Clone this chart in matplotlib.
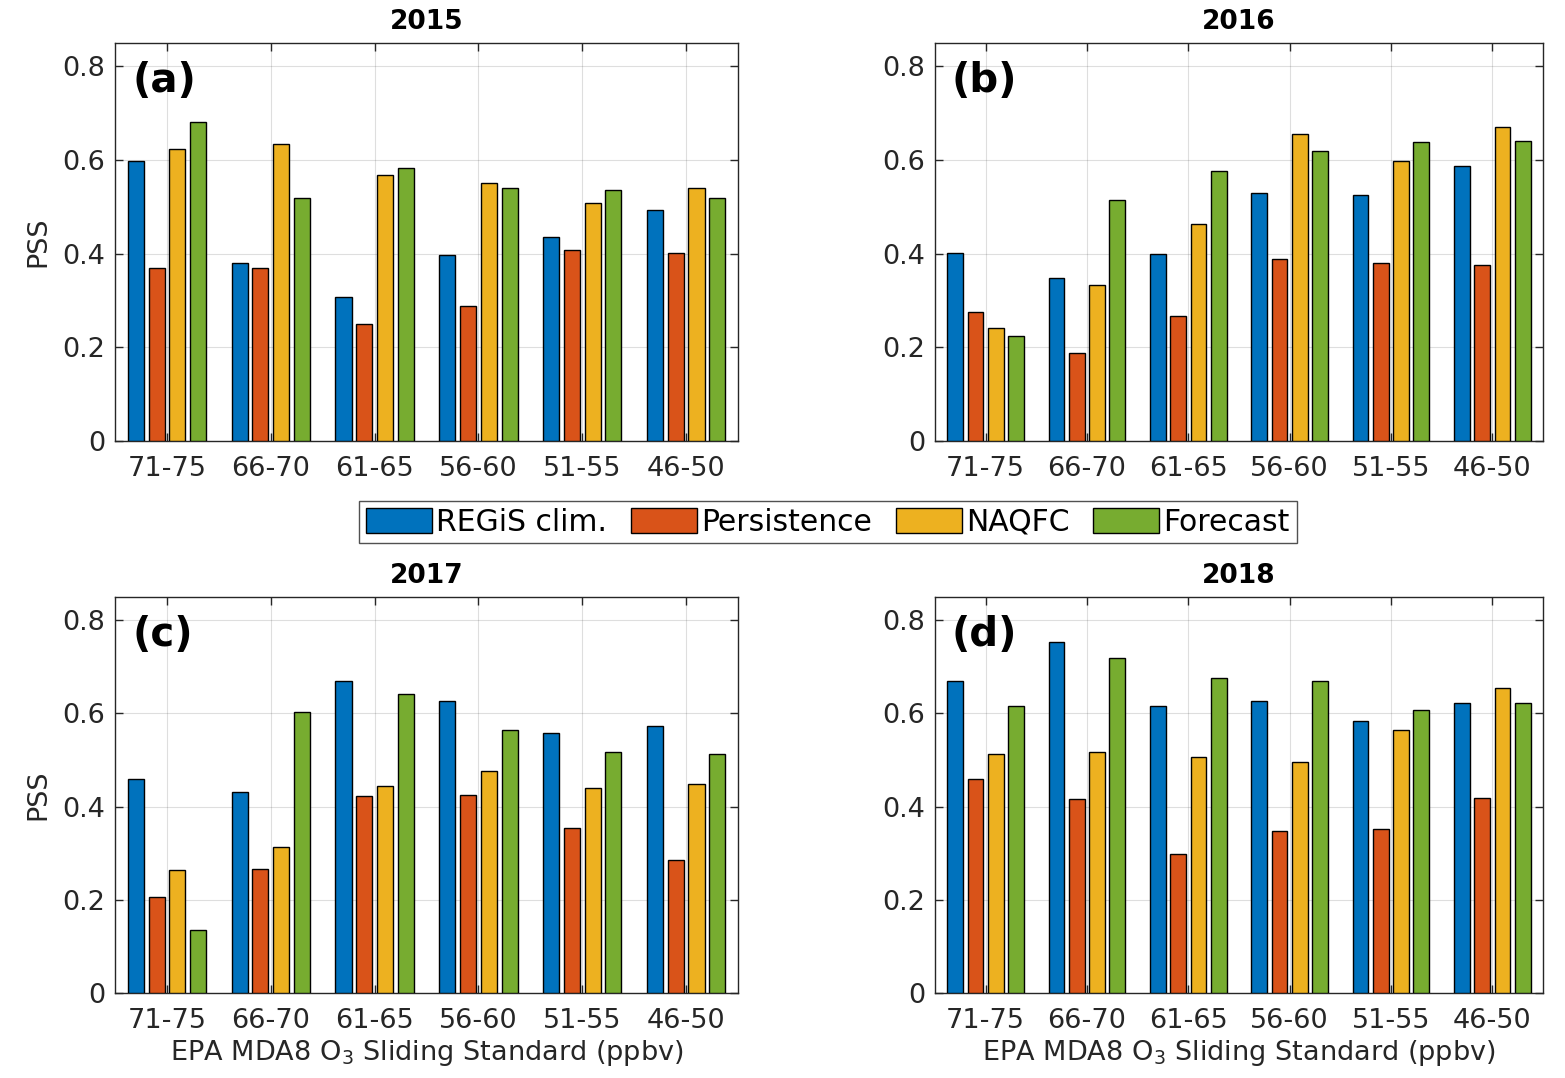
import numpy as np
import matplotlib.pyplot as plt

# PSS scores per ozone threshold bin, one list per year
bins = ['71-75', '66-70', '61-65', '56-60', '51-55', '46-50']
series = ['REGiS clim.', 'Persistence', 'NAQFC', 'Forecast']
colors = ['#0072BD', '#D95319', '#EDB120', '#77AC30']

years = ['2015', '2016', '2017', '2018']
panel_tags = ['(a)', '(b)', '(c)', '(d)']

regis_2015 = [0.597, 0.380, 0.308, 0.398, 0.435, 0.493]
persist_2015 = [0.369, 0.369, 0.249, 0.289, 0.409, 0.402]
naqfc_2015 = [0.624, 0.634, 0.569, 0.551, 0.508, 0.540]
fcst_2015 = [0.681, 0.518, 0.584, 0.540, 0.536, 0.518]

regis_2016 = [0.402, 0.348, 0.399, 0.529, 0.526, 0.587]
persist_2016 = [0.275, 0.188, 0.268, 0.388, 0.380, 0.376]
naqfc_2016 = [0.242, 0.333, 0.464, 0.656, 0.597, 0.670]
fcst_2016 = [0.225, 0.514, 0.576, 0.619, 0.638, 0.641]

regis_2017 = [0.459, 0.431, 0.670, 0.626, 0.557, 0.572]
persist_2017 = [0.205, 0.267, 0.422, 0.426, 0.354, 0.285]
naqfc_2017 = [0.263, 0.314, 0.444, 0.477, 0.441, 0.449]
fcst_2017 = [0.136, 0.604, 0.641, 0.564, 0.517, 0.514]

regis_2018 = [0.670, 0.753, 0.615, 0.626, 0.583, 0.622]
persist_2018 = [0.459, 0.416, 0.299, 0.347, 0.351, 0.419]
naqfc_2018 = [0.514, 0.517, 0.506, 0.496, 0.564, 0.655]
fcst_2018 = [0.615, 0.720, 0.676, 0.670, 0.608, 0.622]

data = [
    [regis_2015, persist_2015, naqfc_2015, fcst_2015],
    [regis_2016, persist_2016, naqfc_2016, fcst_2016],
    [regis_2017, persist_2017, naqfc_2017, fcst_2017],
    [regis_2018, persist_2018, naqfc_2018, fcst_2018],
]

txt = '#262626'
plt.rcParams['font.family'] = ['DejaVu Sans']

fig = plt.figure(figsize=(15.65, 10.78), dpi=100)

# [left, bottom, width, height]
positions = [
    [0.0735, 0.5909, 0.3981, 0.3692],
    [0.5974, 0.5909, 0.3885, 0.3692],
    [0.0735, 0.0789, 0.3981, 0.3673],
    [0.5974, 0.0789, 0.3885, 0.3673],
]

x = np.arange(1, len(bins) + 1)
step = 0.2
width = 0.155

handles = []
for k in range(4):
    ax = fig.add_axes(positions[k])
    for j in range(4):
        h = ax.bar(x + (j - 1.5) * step, data[k][j], width, color=colors[j],
                   edgecolor='black', linewidth=1.0, label=series[j], zorder=3)
        if k == 0:
            handles.append(h)
    ax.set_xlim(0.5, 6.5)
    ax.set_ylim(0, 0.85)
    ax.set_xticks(x)
    ax.set_xticklabels(bins)
    ax.set_yticks([0, 0.2, 0.4, 0.6, 0.8])
    ax.set_yticklabels(['0', '0.2', '0.4', '0.6', '0.8'])
    ax.grid(True, color='#262626', alpha=0.15, linewidth=0.8, zorder=0)
    ax.tick_params(direction='in', length=6, width=1, colors=txt,
                   labelsize=19.5, top=True, right=True)
    ax.tick_params(axis='y', pad=7)
    ax.tick_params(axis='x', pad=11)
    for s in ax.spines.values():
        s.set_color(txt)
        s.set_linewidth(1.0)
    ax.set_title(years[k], fontsize=19, fontweight='bold', pad=10)
    ax.text(0.028, 0.905, panel_tags[k], transform=ax.transAxes,
            fontsize=29, fontweight='bold', va='center', ha='left', zorder=5)
    if k % 2 == 0:
        ax.set_ylabel('PSS', fontsize=19.5, color=txt, labelpad=8)
    if k >= 2:
        ax.set_xlabel('EPA MDA8 O$_3$ Sliding Standard (ppbv)', fontsize=19.5,
                      color=txt, labelpad=3)

leg = fig.legend(handles, series, loc='center', bbox_to_anchor=(0.529, 0.5155),
                 ncol=4, fontsize=21.5, frameon=True, fancybox=False,
                 edgecolor='#262626', handlelength=2.2, handleheight=0.95,
                 handletextpad=0.15, columnspacing=0.8, borderpad=0.22,
                 borderaxespad=0)
leg.get_frame().set_linewidth(1.0)

fig.savefig('out.png', dpi=100)
